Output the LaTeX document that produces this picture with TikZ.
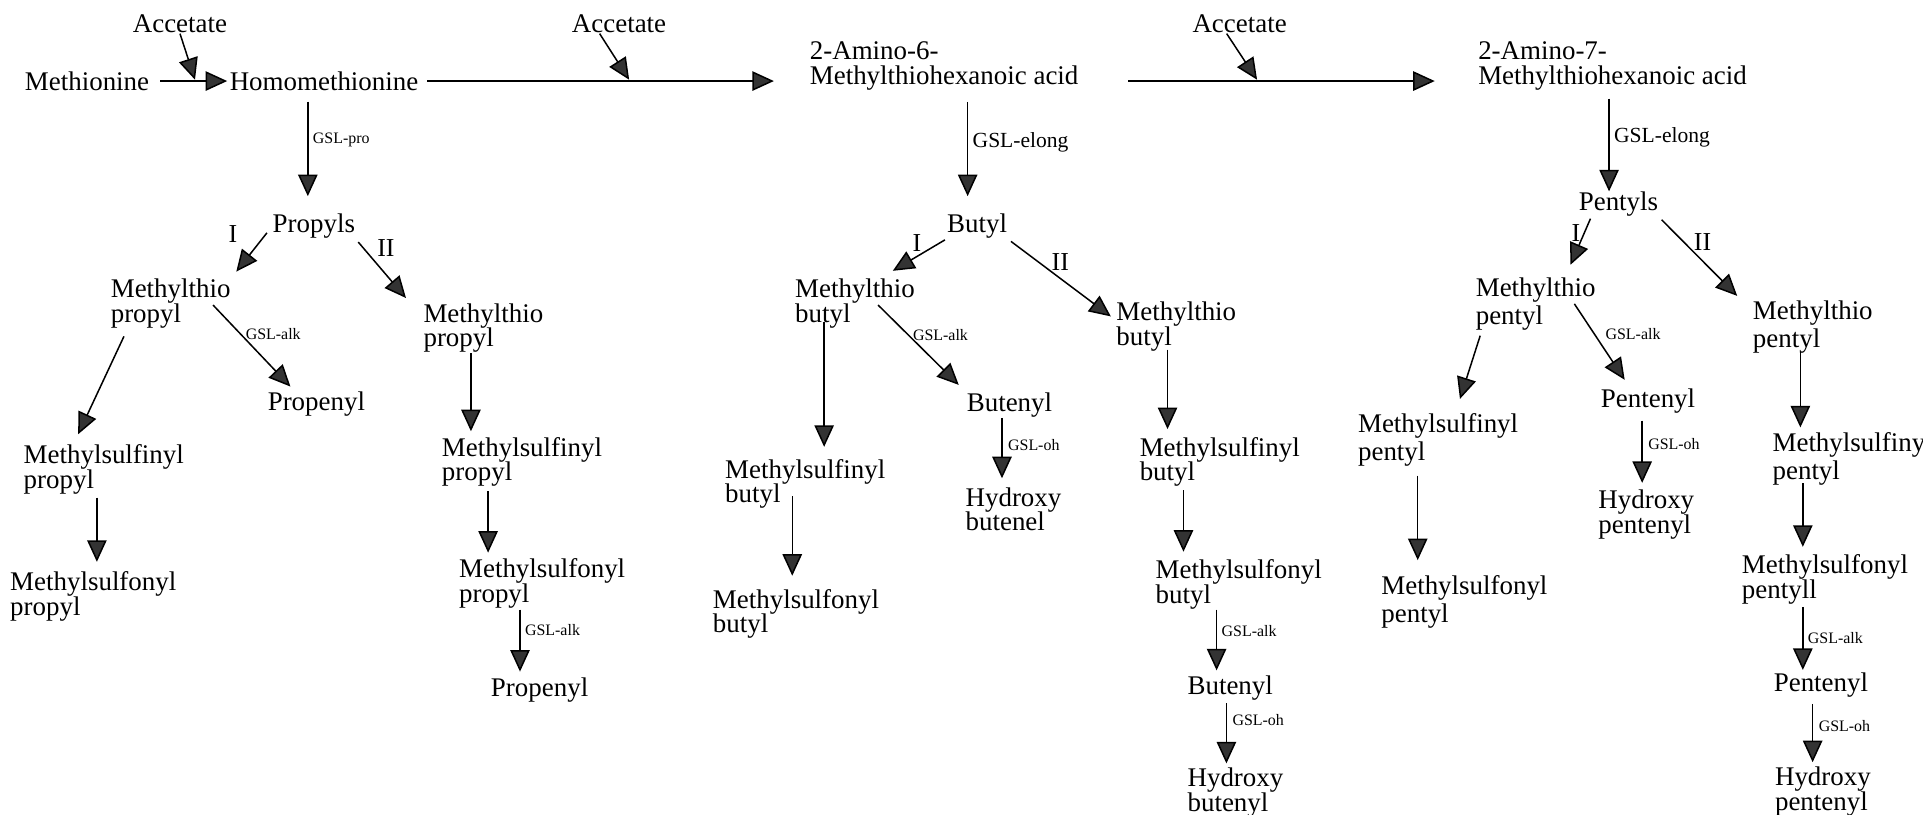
\documentclass[tikz,border=0pt]{standalone}
\usepackage{fontspec}
\setmainfont{Liberation Serif}
\usetikzlibrary{arrows.meta}

\begin{document}
\begin{tikzpicture}[x=0.02cm,y=-0.02cm,
  cmp/.style={anchor=north west,inner sep=0pt,align=left,font={\fontsize{12.5}{11.5}\selectfont\lineskiplimit=-20pt}},
  cmpw/.style={cmp,font={\fontsize{12.5}{13}\selectfont\lineskiplimit=-20pt}},
  rom/.style={inner sep=0pt,font=\fontsize{12}{12}\selectfont},
  enz/.style={right=2pt,inner sep=0pt,font=\fontsize{7.4}{8}\selectfont},
  enzl/.style={enz,font=\fontsize{10}{10}\selectfont},
  arr/.style={line width=0.7pt,-{Triangle[length=10pt,width=9pt,fill=black!80]},shorten <=2pt,shorten >=3pt}]
\useasboundingbox (0,0) rectangle (1568,664);

\node[cmp] (acc1) at (108,12) {Accetate};
\node[cmp] (meth) at (20,58) {Methionine};
\node[cmp] (homo) at (187,58) {Homomethionine};
\node[cmp] (acc2) at (466,12) {Accetate};
\node[cmp] (am6) at (660,34) {2-Amino-6-\\Methylthiohexanoic acid};
\node[cmp] (acc3) at (972,12) {Accetate};
\node[cmp] (am7) at (1205,34) {2-Amino-7-\\Methylthiohexanoic acid};
\coordinate (j1) at (159,65);
\coordinate (j2) at (513,65);
\coordinate (j3) at (1025,65);

\draw[arr,shorten <=5pt,shorten >=1pt] (meth.east) -- (homo.west);
\draw[arr,shorten <=0pt,shorten >=0pt] (acc1.south) -- (j1);
\draw[arr,shorten <=4pt,shorten >=16.5pt] (homo.east) -- (homo.east -| am6.west);
\draw[arr,shorten <=0pt,shorten >=0pt] ([xshift=-9pt]acc2.south) -- (j2);
\draw[arr,shorten <=23pt,shorten >=20pt] (homo.east -| am6.east) -- (homo.east -| am7.west);
\draw[arr,shorten <=0pt,shorten >=0pt] ([xshift=-6pt]acc3.south) -- (j3);

\node[cmp] (prop) at (222,174) {Propyls};
\node[cmp] (mtpa) at (90,227) {Methylthio\\propyl};
\node[cmp] (pena) at (218,319) {Propenyl};
\node[cmp] (msfpa) at (19,362) {Methylsulfinyl\\propyl};
\node[cmp] (msopa) at (8,466) {Methylsulfonyl\\propyl};
\node[cmp] (mtpb) at (345,247) {Methylthio\\propyl};
\node[cmp] (msfpb) at (360,356) {Methylsulfinyl\\propyl};
\node[cmp] (msopb) at (374,455) {Methylsulfonyl\\propyl};
\node[cmp] (penb) at (400,552) {Propenyl};

\draw[arr,shorten <=5pt,shorten >=8pt] (homo.south -| 251,0) -- (prop.north -| 251,0) node[enz,pos=0.4]{GSL-pro};
\draw[arr,shorten <=4pt,shorten >=4pt] (prop.west) -- (mtpa.north east) node[rom,pos=0.15,left=13pt]{I};
\draw[arr] (prop.south east) -- ([xshift=-6pt]mtpb.north west) node[rom,pos=0.15,right=6pt]{II};
\draw[arr,shorten <=1pt] ([xshift=-9pt]mtpa.east) -- ([xshift=-10pt]pena.north) node[enz,pos=0.35]{GSL-alk};
\draw[arr,shorten <=4pt,shorten >=5pt] ([xshift=8pt]mtpa.south west) -- ([xshift=-14pt]msfpa.north);
\draw[arr,shorten <=1.5pt,shorten >=4.5pt] (msfpa.south -| 79,0) -- (msopa.north -| 79,0);
\draw[arr,shorten <=0pt,shorten >=2.5pt] (mtpb.south -| 384,0) -- (msfpb.north -| 384,0);
\draw[arr,shorten <=2pt,shorten >=2.5pt] (msfpb.south -| 398,0) -- (msopb.north -| 398,0);
\draw[arr,shorten <=0.5pt,shorten >=2.5pt] (msopb.south -| 424,0) -- (penb.north -| 424,0) node[enz,pos=0.32]{GSL-alk};

\node[cmp] (but) at (772,174) {Butyl};
\node[cmp] (mtba) at (648,227) {Methylthio\\butyl};
\node[cmp] (buta) at (788,320) {Butenyl};
\node[cmp] (hbuta) at (787,397) {Hydroxy\\butenel};
\node[cmp] (msfba) at (591,374) {Methylsulfinyl\\butyl};
\node[cmp] (msoba) at (581,480) {Methylsulfonyl\\butyl};
\node[cmp] (mtbb) at (910,246) {Methylthio\\butyl};
\node[cmp] (msfbb) at (929,356) {Methylsulfinyl\\butyl};
\node[cmp] (msobb) at (942,456) {Methylsulfonyl\\butyl};
\node[cmp] (butb) at (968,551) {Butenyl};
\node[cmp] (hbutb) at (968,626) {Hydroxy\\butenyl};

\draw[arr,shorten <=5pt,shorten >=8pt] (am6.south -| 789,0) -- (but.north -| 789,0) node[enzl,pos=0.42]{GSL-elong};
\draw[arr,shorten <=1pt] (but.south west) -- ([xshift=-13pt,yshift=2pt]mtba.north east) node[rom,pos=0.5,above=2pt]{I};
\draw[arr] (but.south east) -- ([yshift=3pt]mtbb.west) node[rom,pos=0.4,above right=0pt]{II};
\draw[arr,shorten <=1pt,shorten >=5pt] ([xshift=-18pt]mtba.east) -- (buta.north west) node[enz,pos=0.35]{GSL-alk};
\draw[arr,shorten <=0pt,shorten >=4pt] (buta.south -| 817,0) -- (hbuta.north -| 817,0) node[enz,pos=0.39,right=0.5pt]{GSL-oh};
\draw[arr,shorten <=-3pt,shorten >=5.5pt] (mtba.south -| 672,0) -- (msfba.north -| 672,0);
\draw[arr,shorten <=-6pt,shorten >=6pt] (msfba.south -| 646,0) -- (msoba.north -| 646,0);
\draw[arr,shorten <=-1pt,shorten >=3.5pt] (mtbb.south -| 952,0) -- (msfbb.north -| 952,0);
\draw[arr,shorten <=1.5pt,shorten >=3.5pt] (msfbb.south -| 965,0) -- (msobb.north -| 965,0);
\draw[arr,shorten <=0pt,shorten >=2.5pt] (msobb.south -| 992,0) -- (butb.north -| 992,0) node[enz,pos=0.33]{GSL-alk};
\draw[arr,shorten <=1pt,shorten >=2pt] (butb.south -| 1000,0) -- (hbutb.north -| 1000,0) node[enz,pos=0.29,right=0.5pt]{GSL-oh};

\node[cmp] (pent) at (1287,156) {Pentyls};
\node[cmpw] (mtpea) at (1203,226) {Methylthio\\pentyl};
\node[cmp] (pentea) at (1305,317) {Pentenyl};
\node[cmp] (hpea) at (1303,399) {Hydroxy\\pentenyl};
\node[cmpw] (msfpea) at (1107,337) {Methylsulfinyl\\pentyl};
\node[cmpw] (msopea) at (1126,469) {Methylsulfonyl\\pentyl};
\node[cmpw] (mtpeb) at (1429,245) {Methylthio\\pentyl};
\node[cmpw] (msfpeb) at (1445,352) {Methylsulfinyl\\pentyl};
\node[cmp] (msopeb) at (1420,452) {Methylsulfonyl\\pentyll};
\node[cmp] (penteb) at (1446,548) {Pentenyl};
\node[cmp] (hpeb) at (1447,625) {Hydroxy\\pentenyl};

\draw[arr,shorten <=3.5pt,shorten >=0pt] (am7.south -| 1312,0) -- (pent.north -| 1312,0) node[enzl,pos=0.46]{GSL-elong};
\draw[arr,shorten <=1pt,shorten >=3pt] ([xshift=6pt]pent.south west) -- ([xshift=-13pt,yshift=3pt]mtpea.north east) node[rom,pos=0.3,left=1.5pt]{I};
\draw[arr] (pent.south east) -- ([xshift=-5pt]mtpeb.north west) node[rom,pos=0.3,right=4.5pt]{II};
\draw[arr,shorten <=0pt,shorten >=5pt] ([xshift=-10pt]mtpea.east) -- ([xshift=14pt]pentea.north west) node[enz,pos=0.35,right=3pt]{GSL-alk};
\draw[arr,shorten <=2.5pt,shorten >=7pt] ([xshift=3pt]mtpea.south west) -- ([xshift=8pt]msfpea.north);
\draw[arr,shorten <=3pt,shorten >=3pt] (pentea.south -| 1339,0) -- (hpea.north -| 1339,0) node[enz,pos=0.4,right=0.5pt]{GSL-oh};
\draw[arr,shorten <=4pt,shorten >=7pt] (msfpea.south -| 1156,0) -- (msopea.north -| 1156,0);
\draw[arr,shorten <=-1pt,shorten >=2pt] (mtpeb.south -| 1468,0) -- (msfpeb.north -| 1468,0);
\draw[arr,shorten <=-1pt,shorten >=3.5pt] (msfpeb.south -| 1470,0) -- (msopeb.north -| 1470,0);
\draw[arr,shorten <=1pt,shorten >=1pt] (msopeb.south -| 1470,0) -- (penteb.north -| 1470,0) node[enz,pos=0.5]{GSL-alk};
\draw[arr,shorten <=3pt,shorten >=2pt] (penteb.south -| 1478,0) -- (hpeb.north -| 1478,0) node[enz,pos=0.42,right=0.5pt]{GSL-oh};
\end{tikzpicture}
\end{document}
